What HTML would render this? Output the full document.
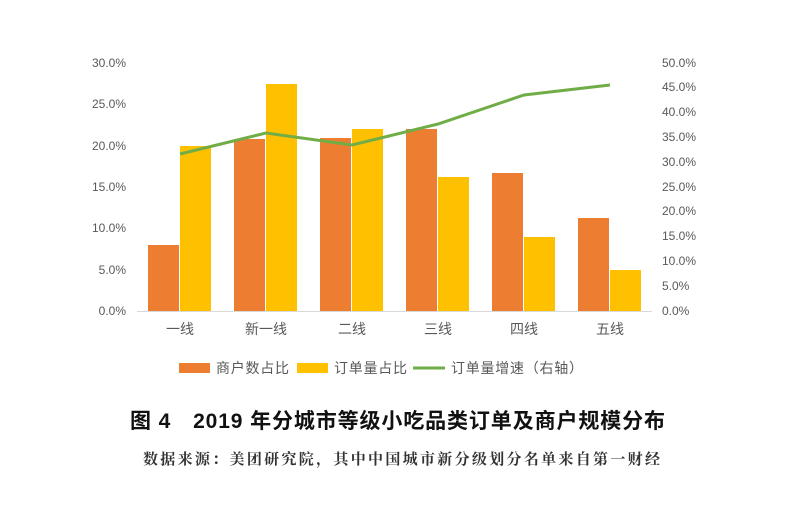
<!DOCTYPE html>
<html><head><meta charset="utf-8"><style>
body{margin:0;background:#fff;width:800px;height:505px;overflow:hidden}
svg text{font-family:"Liberation Sans","Noto Sans CJK SC",sans-serif}
</style></head><body>
<svg width="800" height="505" xmlns="http://www.w3.org/2000/svg">
<g font-size="12" fill="#595959" text-anchor="end">
<text x="126" y="315">0.0%</text><text x="126" y="274">5.0%</text><text x="126" y="232">10.0%</text>
<text x="126" y="191">15.0%</text><text x="126" y="150">20.0%</text><text x="126" y="108">25.0%</text><text x="126" y="67">30.0%</text>
</g>
<g font-size="12" fill="#595959" text-anchor="start">
<text x="662" y="315">0.0%</text><text x="662" y="290">5.0%</text><text x="662" y="265">10.0%</text>
<text x="662" y="240">15.0%</text><text x="662" y="215">20.0%</text><text x="662" y="191">25.0%</text>
<text x="662" y="166">30.0%</text><text x="662" y="141">35.0%</text><text x="662" y="116">40.0%</text>
<text x="662" y="91">45.0%</text><text x="662" y="67">50.0%</text>
</g>
<g fill="#ED7D31">
<rect x="148" y="245" width="31" height="66"/><rect x="234" y="139" width="31" height="172"/>
<rect x="320" y="138" width="31" height="173"/><rect x="406" y="129" width="31" height="182"/>
<rect x="492" y="173" width="31" height="138"/><rect x="578" y="218" width="31" height="93"/>
</g>
<g fill="#FFC000">
<rect x="180" y="146" width="31" height="165"/><rect x="266" y="84" width="31" height="227"/>
<rect x="352" y="129" width="31" height="182"/><rect x="438" y="177" width="31" height="134"/>
<rect x="524" y="237" width="31" height="74"/><rect x="610" y="270" width="31" height="41"/>
</g>
<line x1="137" y1="311.5" x2="652" y2="311.5" stroke="#d9d9d9"/>
<polyline points="180,154 266,133 352,145 438,124 524,95 610,85" fill="none" stroke="#70AD47" stroke-width="3"/>
<g font-size="14" fill="#595959" text-anchor="middle">
<text x="180" y="334">一线</text><text x="266" y="334">新一线</text><text x="352" y="334">二线</text>
<text x="438" y="334">三线</text><text x="524" y="334">四线</text><text x="610" y="334">五线</text>
</g>
<rect x="179" y="363" width="31" height="10" fill="#ED7D31"/>
<text x="216" y="373" font-size="14" fill="#595959" textLength="73">商户数占比</text>
<rect x="297" y="363" width="31" height="10" fill="#FFC000"/>
<text x="334" y="373" font-size="14" fill="#595959" textLength="73">订单量占比</text>
<line x1="413" y1="368" x2="445" y2="368" stroke="#70AD47" stroke-width="3"/>
<text x="451" y="373" font-size="14" fill="#595959" textLength="132">订单量增速（右轴）</text>
<text x="130" y="428" font-size="21" font-weight="bold" fill="#111" textLength="535">图 4　2019 年分城市等级小吃品类订单及商户规模分布</text>
<text x="143" y="464" font-size="15" font-weight="bold" fill="#333" textLength="517" style="font-family:'Liberation Serif','Noto Serif CJK SC',serif">数据来源：美团研究院，其中中国城市新分级划分名单来自第一财经</text>
</svg>
</body></html>
